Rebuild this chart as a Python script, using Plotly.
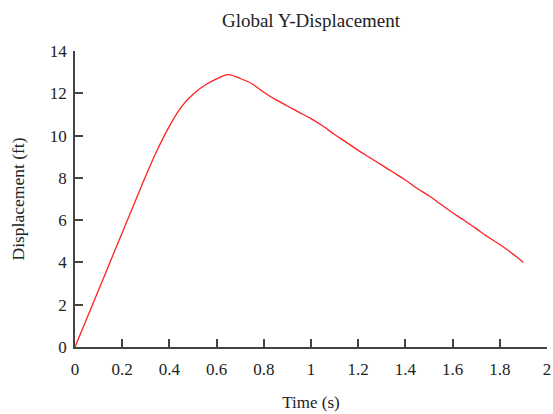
import plotly.graph_objects as go

time_s = [0.0, 0.05, 0.1, 0.15, 0.2, 0.25, 0.3, 0.35, 0.4, 0.45, 0.5, 0.55, 0.6, 0.65,
          0.7, 0.75, 0.8, 0.85, 0.9, 0.95, 1.0, 1.05, 1.1, 1.15, 1.2, 1.25, 1.3, 1.35,
          1.4, 1.45, 1.5, 1.55, 1.6, 1.65, 1.7, 1.75, 1.8, 1.85, 1.9]
displacement_ft = [0.0, 1.35, 2.7, 4.05, 5.4, 6.75, 8.1, 9.35, 10.45, 11.35, 11.95, 12.38,
                   12.68, 12.88, 12.7, 12.45, 12.05, 11.7, 11.4, 11.1, 10.8, 10.45, 10.05,
                   9.68, 9.3, 8.95, 8.6, 8.25, 7.9, 7.5, 7.15, 6.75, 6.35, 5.98, 5.6, 5.2,
                   4.85, 4.45, 4.0]
x_ticks = [0, 0.2, 0.4, 0.6, 0.8, 1, 1.2, 1.4, 1.6, 1.8, 2]
y_ticks = [0, 2, 4, 6, 8, 10, 12, 14]

font_family = "Liberation Serif"
text_color = "#222"

fig = go.Figure(go.Scatter(x=time_s, y=displacement_ft, mode="lines",
                           line=dict(color="#ff2020", width=1.3, shape="spline", smoothing=1.0)))

axis_common = dict(showgrid=False, zeroline=False, showline=True, linecolor="#444",
                   linewidth=1.6, ticks="inside", ticklen=8, tickwidth=1.6,
                   tickcolor="#444", automargin=False,
                   tickfont=dict(family=font_family, size=17, color=text_color))

W, H = 553, 414
fig.update_layout(
    width=W, height=H,
    margin=dict(l=75, r=6, t=51, b=67),
    paper_bgcolor="white", plot_bgcolor="white",
    showlegend=False,
    font=dict(family=font_family, size=17, color=text_color),
    title=dict(text="Global Y-Displacement", x=311 / W, xanchor="center",
               y=1 - 20 / H, yanchor="middle", automargin=False,
               font=dict(family=font_family, size=19, color=text_color)),
    xaxis=dict(range=[0, 2], tickvals=x_ticks, ticktext=[str(v) for v in x_ticks],
               ticklabelstandoff=6,
               title=dict(text="Time (s)", standoff=18, font=dict(family=font_family, size=17)),
               **axis_common),
    yaxis=dict(range=[0, 14], tickvals=y_ticks, ticklabelstandoff=3,
               title=dict(text="Displacement (ft)", standoff=21, font=dict(family=font_family, size=17.5)),
               **axis_common),
)

fig.write_html("out.html", config={"displayModeBar": False},
               post_script="document.body.style.margin='0';document.body.style.overflow='hidden';")
